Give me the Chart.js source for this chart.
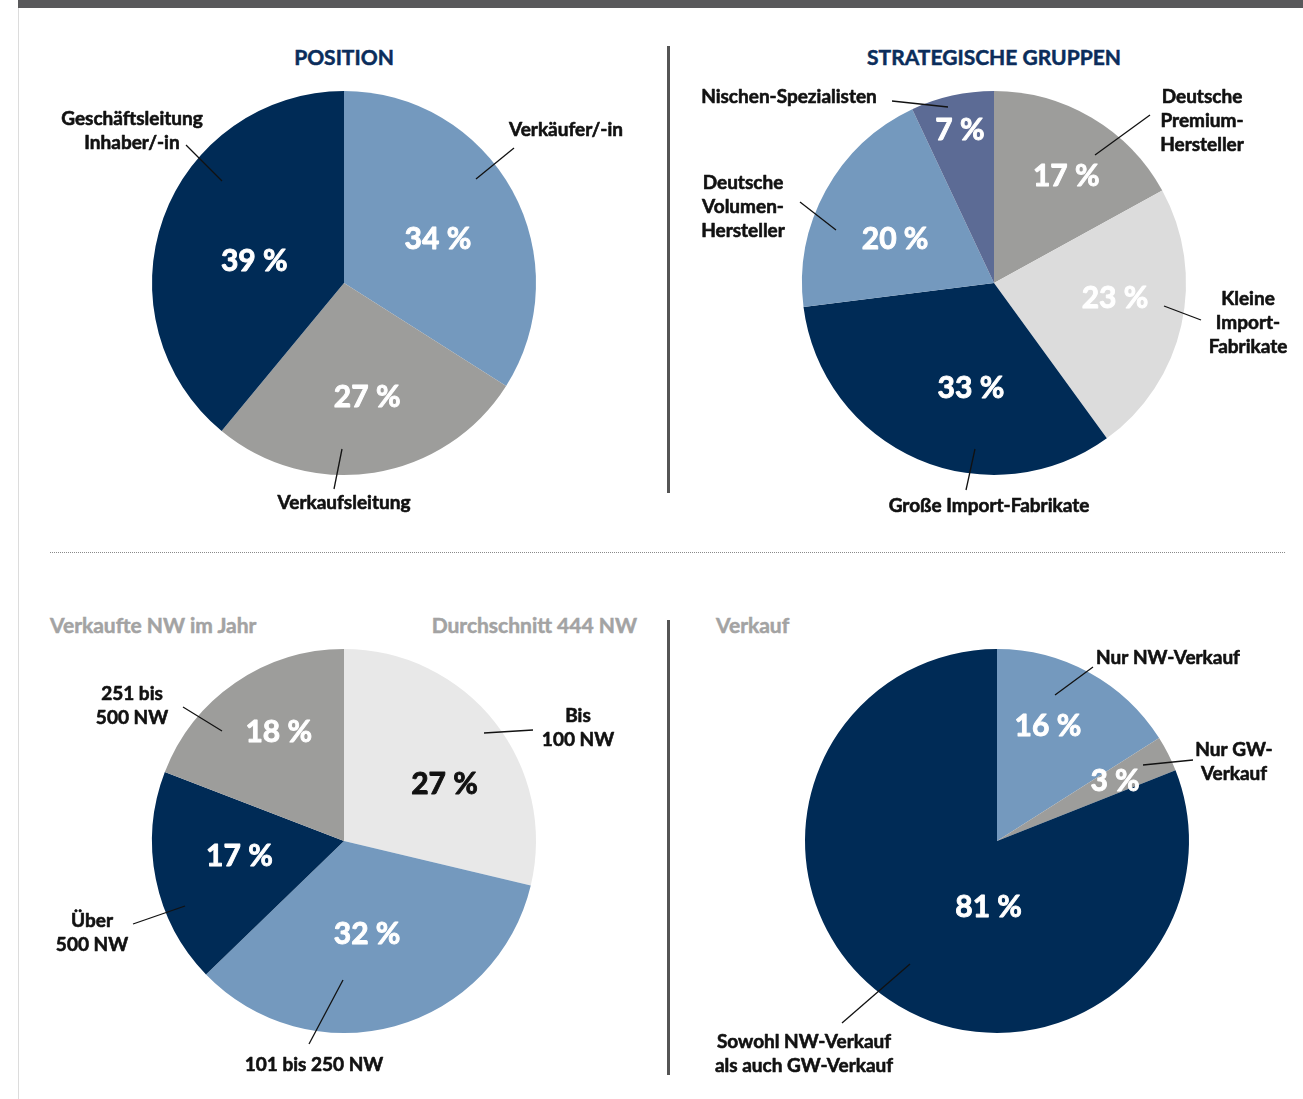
<!DOCTYPE html>
<html>
<head>
<meta charset="utf-8">
<script src="https://cdn.jsdelivr.net/npm/chart.js@4.4.1/dist/chart.umd.min.js"></script>
<style>
  body { margin: 0; background: #fff; width: 1303px; height: 1099px; position: relative; overflow: hidden; font-family: Lato, "Open Sans", sans-serif; }
  .topbar { position: absolute; left: 18px; top: 0; width: 1285px; height: 8px; background: #59595b; }
  .leftline { position: absolute; left: 18px; top: 8px; width: 1px; height: 1091px; background: #dcdcdc; }
  .vsep { position: absolute; left: 667px; width: 3px; background: #555; }
  .hsep { position: absolute; left: 50px; top: 552px; width: 1235px; border-top: 1px dotted #8a8a8a; }
  .title { position: absolute; font-weight: 700; font-size: 21px; line-height: 1; white-space: nowrap; transform: translateY(-50%); -webkit-text-stroke: 0.5px currentColor; }
  .navy { color: #0b2d5b; }
  .grey { color: #a3a3a3; }
  canvas { position: absolute; }
</style>
</head>
<body>
<div class="topbar"></div>
<div class="leftline"></div>
<div class="vsep" style="top:46px;height:447px"></div>
<div class="vsep" style="top:620px;height:455px"></div>
<div class="hsep"></div>

<div class="title navy" style="left:344px;top:56px;transform:translate(-50%,-50%)">POSITION</div>
<div class="title navy" style="left:994px;top:56px;transform:translate(-50%,-50%)">STRATEGISCHE GRUPPEN</div>
<div class="title grey" style="left:50px;top:624px">Verkaufte NW im Jahr</div>
<div class="title grey" style="right:666px;top:624px">Durchschnitt 444 NW</div>
<div class="title grey" style="left:716px;top:624px">Verkauf</div>

<canvas id="posChart" width="640" height="510" style="left:20px;top:30px"></canvas>
<canvas id="grpChart" width="627" height="510" style="left:676px;top:30px"></canvas>
<canvas id="nwChart" width="640" height="450" style="left:20px;top:640px"></canvas>
<canvas id="vkChart" width="627" height="450" style="left:676px;top:640px"></canvas>

<script>
const NAVY = '#002b56', BLUE = '#7499be', GRAY = '#9d9d9b', LIGHT = '#dcdcdc', PALE = '#e8e8e8', SLATE = '#5c6b95';

// Position
const posLabels = ['Verkäufer/-in', 'Verkaufsleitung', 'Geschäftsleitung\nInhaber/-in'];
const posValues = [34, 27, 39];
const posColors = [BLUE, GRAY, NAVY];

// Strategische Gruppen
const grpLabels = ['Deutsche\nPremium-\nHersteller', 'Kleine\nImport-\nFabrikate', 'Große Import-Fabrikate', 'Deutsche\nVolumen-\nHersteller', 'Nischen-Spezialisten'];
const grpValues = [17, 23, 33, 20, 7];
const grpColors = [GRAY, LIGHT, NAVY, BLUE, SLATE];

// Verkaufte NW im Jahr
const nwLabels = ['Bis\n100 NW', '101 bis 250 NW', 'Über\n500 NW', '251 bis\n500 NW'];
const nwValues = [27, 32, 17, 18];
const nwColors = [PALE, BLUE, NAVY, GRAY];

// Verkauf
const vkLabels = ['Nur NW-Verkauf', 'Nur GW-\nVerkauf', 'Sowohl NW-Verkauf\nals auch GW-Verkauf'];
const vkValues = [16, 3, 81];
const vkColors = [BLUE, GRAY, NAVY];

// text a little heavier than Lato Bold
function boldText(ctx, t, x, y, w) {
  ctx.lineWidth = w;
  ctx.strokeText(t, x, y);
  ctx.fillText(t, x, y);
}

// draws the "xx %" inside the slices and the labels with leader lines
const pieText = {
  id: 'pieText',
  afterDatasetsDraw(chart, args, opts) {
    const ctx = chart.ctx;
    const meta = chart.getDatasetMeta(0);
    const ds = chart.data.datasets[0];
    ctx.save();
    ctx.textAlign = 'center';
    ctx.textBaseline = 'middle';
    ctx.lineJoin = 'round';
    meta.data.forEach((arc, i) => {
      const p = opts.pct[i];
      const mid = (arc.startAngle + arc.endAngle) / 2 + p[1] * Math.PI / 180;
      const r = arc.outerRadius * p[0];
      ctx.font = '700 30px Lato';
      ctx.fillStyle = ctx.strokeStyle = p[2] || '#fff';
      boldText(ctx, ds.data[i] + ' %', arc.x + Math.cos(mid) * r, arc.y + Math.sin(mid) * r, 0.9);
    });
    ctx.strokeStyle = '#111';
    ctx.fillStyle = '#111';
    ctx.font = '700 19px Lato';
    opts.callouts.forEach((c, i) => {
      const ox = opts.left, oy = opts.top;
      ctx.lineWidth = 1.3;
      ctx.beginPath();
      ctx.moveTo(c.line[0] - ox, c.line[1] - oy);
      ctx.lineTo(c.line[2] - ox, c.line[3] - oy);
      ctx.stroke();
      chart.data.labels[i].split('\n').forEach((t, k) => {
        boldText(ctx, t, c.x - ox, c.y - oy + k * 24, 0.6);
      });
    });
    ctx.restore();
  }
};

function makePie(id, labels, values, colors, box, pct, callouts) {
  const R = 192;
  const cx = box.cx - box.left, cy = box.cy - box.top;
  const cv = document.getElementById(id);
  return new Chart(cv.getContext('2d'), {
    type: 'pie',
    data: {
      labels: labels,
      datasets: [{
        data: values,
        backgroundColor: colors,
        borderWidth: 0,
        hoverOffset: 0,
        radius: R
      }]
    },
    options: {
      responsive: false,
      animation: false,
      events: [],
      layout: {
        padding: { left: cx - R, right: cv.width - cx - R, top: cy - R, bottom: cv.height - cy - R }
      },
      plugins: {
        legend: { display: false },
        tooltip: { enabled: false },
        pieText: { pct: pct, callouts: callouts, left: box.left, top: box.top }
      }
    },
    plugins: [pieText]
  });
}

makePie('posChart', posLabels, posValues, posColors,
  { left: 20, top: 30, cx: 344, cy: 283 },
  [[0.54, 3.7], [0.61, -2.4], [0.48, -6.5]],
  [
    { x: 566, y: 130, line: [514, 148, 476, 179] },
    { x: 344, y: 503, line: [334, 489, 342, 449] },
    { x: 132, y: 119, line: [186, 145, 222, 181] }
  ]);

makePie('grpChart', grpLabels, grpValues, grpColors,
  { left: 676, top: 30, cx: 994, cy: 283 },
  [[0.67, 3.6], [0.635, -5.5], [0.56, -11], [0.564, -4.8], [0.816, 0]],
  [
    { x: 1202, y: 97, line: [1150, 115, 1095, 155] },
    { x: 1248, y: 299, line: [1164, 306, 1201, 320] },
    { x: 989, y: 506, line: [975, 449, 966, 490] },
    { x: 743, y: 183, line: [800, 202, 836, 230] },
    { x: 789, y: 97, line: [892, 101, 948, 107] }
  ]);

makePie('nwChart', nwLabels, nwValues, nwColors,
  { left: 20, top: 640, cx: 344, cy: 841 },
  [[0.6, 9, '#111'], [0.5, 1.4], [0.55, 3.4], [0.66, 3.5]],
  [
    { x: 578, y: 716, line: [533, 730, 484, 733] },
    { x: 314, y: 1065, line: [309, 1044, 343, 980] },
    { x: 92, y: 921, line: [133, 924, 185, 906] },
    { x: 132, y: 694, line: [183, 707, 222, 731] }
  ]);

makePie('vkChart', vkLabels, vkValues, vkColors,
  { left: 676, top: 640, cx: 997, cy: 841 },
  [[0.655, -4.9], [0.69, 0], [0.35, -27]],
  [
    { x: 1168, y: 658, line: [1093, 667, 1055, 695] },
    { x: 1234, y: 750, line: [1193, 760, 1143, 765] },
    { x: 804, y: 1042, line: [842, 1023, 910, 964] }
  ]);
</script>
</body>
</html>
